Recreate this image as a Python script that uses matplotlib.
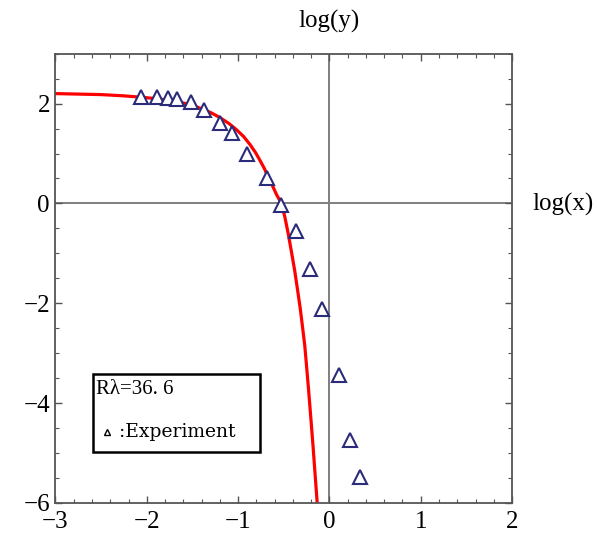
import numpy as np
import matplotlib
matplotlib.use("Agg")
import matplotlib.pyplot as plt
from matplotlib.ticker import MultipleLocator
from matplotlib.patches import Rectangle

# experiment points (log x, log y)
exp_logx = [-2.06, -1.89, -1.77, -1.67, -1.52, -1.37, -1.20, -1.07, -0.90,
            -0.68, -0.53, -0.37, -0.21, -0.08, 0.10, 0.22, 0.33]
exp_logy = [2.14, 2.14, 2.12, 2.10, 2.04, 1.88, 1.62, 1.42, 1.00,
            0.50, -0.04, -0.56, -1.32, -2.12, -3.44, -4.74, -5.48]

# model curve
fit_logx = [-3.0, -2.75, -2.5, -2.25, -2.08, -1.9, -1.8, -1.7, -1.6, -1.5, -1.42,
            -1.3, -1.2, -1.1, -1.02, -0.94, -0.87, -0.81, -0.76, -0.71, -0.67,
            -0.62, -0.58, -0.55, -0.52, -0.485, -0.45, -0.415, -0.38, -0.35,
            -0.32, -0.295, -0.27, -0.25, -0.23, -0.205, -0.18, -0.157, -0.134]
fit_logy = [2.20, 2.19, 2.18, 2.155, 2.13, 2.10, 2.075, 2.045, 2.01, 1.965, 1.91,
            1.82, 1.72, 1.60, 1.48, 1.34, 1.18, 1.02, 0.86, 0.69, 0.52,
            0.34, 0.18, 0.08, -0.02, -0.30, -0.62, -0.98, -1.35, -1.72,
            -2.10, -2.47, -2.85, -3.27, -3.70, -4.27, -4.85, -5.43, -6.0]

r_lambda = 36.6

plt.rcParams['font.family'] = ['Liberation Serif', 'DejaVu Serif']
plt.rcParams['axes.unicode_minus'] = True

fig = plt.figure(figsize=(5.98, 5.42), dpi=100)
ax = fig.add_axes([0.0928, 0.072, 0.7635, 0.829])

ax.axhline(0, color='#7f7f7f', lw=1.4, zorder=1)
ax.axvline(0, color='#7f7f7f', lw=1.4, zorder=1)

ax.plot(fit_logx, fit_logy, color='#ff0000', lw=2.3, zorder=2)
ax.plot(exp_logx, exp_logy, ls='none', marker='^', ms=10, mfc='white',
        mec='#2b2b7a', mew=1.5, zorder=3)

ax.set_xlim(-3, 2)
ax.set_ylim(-6, 3)
ax.xaxis.set_major_locator(MultipleLocator(1))
ax.xaxis.set_minor_locator(MultipleLocator(0.2))
ax.yaxis.set_major_locator(MultipleLocator(2))
ax.yaxis.set_minor_locator(MultipleLocator(0.5))
ax.tick_params(which='both', direction='in', top=True, right=True,
               color='#555555')
ax.tick_params(which='major', length=5, width=1, labelsize=18, pad=4)
ax.tick_params(which='minor', length=3, width=0.8)
ax.tick_params(axis='x', pad=6)
for sp in ax.spines.values():
    sp.set_color('#555555')
    sp.set_linewidth(1.3)

# axis names sit at the ends of the zero lines
ax.text(0, 1.045, 'log(y)', transform=ax.get_xaxis_transform(),
        ha='center', va='bottom', fontsize=18)
ax.text(1.045, -0.02, 'log(x)', transform=ax.get_yaxis_transform(),
        ha='left', va='center', fontsize=18)

# legend box
ax.add_patch(Rectangle((0.082, 0.113), 0.366, 0.174, transform=ax.transAxes,
                       fill=False, ec='black', lw=1.8, zorder=4))
rl_text = 'R\u03bb=' + f'{r_lambda:.1f}'.replace('.', '. ')
ax.text(0.088, 0.252, rl_text, transform=ax.transAxes, ha='left',
        va='center', fontsize=15, zorder=5)
ax.plot([0.113], [0.159], transform=ax.transAxes, marker='^', ms=5,
        mfc='white', mec='black', mew=1.0, ls='none', zorder=5)
ax.text(0.14, 0.159, ':Experiment', transform=ax.transAxes, ha='left',
        va='center', fontsize=13.5, family=['DejaVu Serif'], zorder=5)

fig.savefig('out.png', dpi=100)
